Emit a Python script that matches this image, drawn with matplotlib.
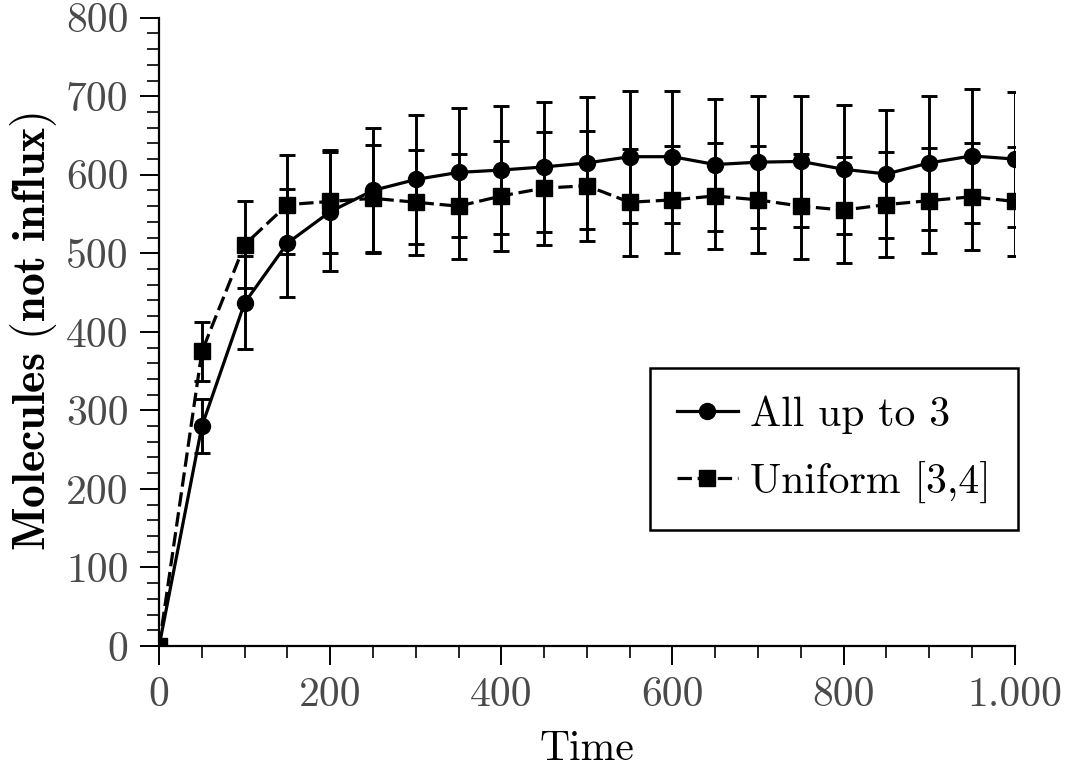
import matplotlib
matplotlib.use("Agg")
import matplotlib.pyplot as plt
from matplotlib.ticker import MultipleLocator, FuncFormatter

time = [0, 50, 100, 150, 200, 250, 300, 350, 400, 450, 500, 550, 600, 650, 700, 750, 800, 850, 900, 950, 1000]
all_up_to_3 = [0, 280, 437, 513, 553, 580, 594, 603, 606, 610, 615, 623, 623, 613, 616, 617, 607, 601, 615, 624, 620]
all_up_to_3_err = [0, 34, 59, 69, 76, 80, 82, 82, 82, 83, 84, 84, 84, 84, 84, 83, 82, 82, 85, 85, 86]
uniform_34 = [0, 375, 511, 562, 566, 570, 565, 560, 573, 583, 586, 565, 568, 573, 568, 560, 555, 562, 567, 572, 566]
uniform_34_err = [0, 38, 55, 63, 66, 68, 67, 67, 70, 72, 70, 68, 68, 68, 68, 67, 67, 67, 67, 68, 69]
labels = ["All up to 3", "Uniform [3,4]"]

plt.rcParams['font.family'] = ['cmr10', 'DejaVu Serif']
plt.rcParams['mathtext.fontset'] = 'cm'
plt.rcParams['axes.formatter.use_mathtext'] = True

fig = plt.figure(figsize=(10.68, 7.69), dpi=100)
ax = fig.add_axes([0.149, 0.160, 0.801, 0.817])

lw = 2.3
ax.errorbar(time, all_up_to_3, yerr=all_up_to_3_err, fmt='none', ecolor='black',
            elinewidth=2.1, capsize=5.5, capthick=2.1)
ax.errorbar(time, uniform_34, yerr=uniform_34_err, fmt='none', ecolor='black',
            elinewidth=2.1, capsize=5.5, capthick=2.1)
ax.plot(time, all_up_to_3, '-o', color='black', lw=lw, ms=11.5, label=labels[0])
ax.plot(time, uniform_34, '--s', color='black', lw=lw, ms=11.5, dashes=(4.5, 1.8), label=labels[1])

ax.set_xlim(0, 1000)
ax.set_ylim(0, 800)
ax.xaxis.set_major_locator(MultipleLocator(200))
ax.xaxis.set_minor_locator(MultipleLocator(50))
ax.yaxis.set_major_locator(MultipleLocator(100))
ax.yaxis.set_minor_locator(MultipleLocator(20))
ax.xaxis.set_major_formatter(FuncFormatter(lambda v, p: f"{int(v):,}".replace(",", ".")))
ax.yaxis.set_major_formatter(FuncFormatter(lambda v, p: f"{int(v)}"))

for s in ['top', 'right']:
    ax.spines[s].set_visible(False)
for s in ['left', 'bottom']:
    ax.spines[s].set_linewidth(1.6)

ax.tick_params(which='major', direction='out', length=14, width=1.4, labelsize=30,
               labelcolor='#4a4a4a', pad=8)
ax.tick_params(which='minor', direction='out', length=8.5, width=1.2)

ax.set_xlabel("Time", fontsize=30, labelpad=12)
ax.set_ylabel(r"$\mathbf{Molecules\ (not\ influx)}$", fontsize=33, labelpad=5)

leg = ax.legend(loc='upper left', bbox_to_anchor=(650/1068, 1 - 368/769),
                bbox_transform=fig.transFigure, fontsize=30, handlelength=1.45,
                handletextpad=0.3, borderpad=0.65, labelspacing=0.65,
                fancybox=False, framealpha=1, edgecolor='black', borderaxespad=0)
leg.get_frame().set_linewidth(1.8)

fig.savefig("out.png", dpi=100)
